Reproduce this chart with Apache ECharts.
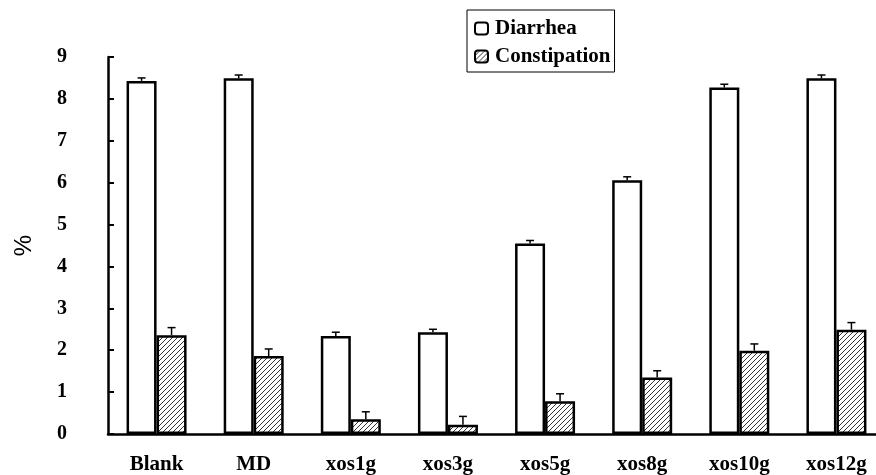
<!DOCTYPE html>
<html>
<head>
<meta charset="utf-8">
<script src="https://cdn.jsdelivr.net/npm/echarts@6/dist/echarts.min.js"></script>
<style>
  html, body { margin: 0; padding: 0; background: #fff; }
  #main { width: 876px; height: 475px; }
</style>
</head>
<body>
<div id="main"></div>
<script>
// 分组名称
var categories = ['Blank', 'MD', 'xos1g', 'xos3g', 'xos5g', 'xos8g', 'xos10g', 'xos12g'];

// 腹泻 (均值, 误差)
var diarrhea = [8.43, 8.49, 2.34, 2.43, 4.55, 6.06, 8.27, 8.49];
var diarrheaErr = [0.07, 0.08, 0.09, 0.07, 0.07, 0.08, 0.08, 0.08];

// 便秘 (均值, 误差)
var constipation = [2.36, 1.86, 0.35, 0.22, 0.78, 1.35, 1.99, 2.49];
var constipationErr = [0.18, 0.17, 0.18, 0.2, 0.18, 0.16, 0.16, 0.17];

var yTicks = [0, 9, 1]; // min, max, interval

var barWidth = 30;
var serif = '"Liberation Serif", "Times New Roman", serif';

/**
 * 斜线填充图案
 */
function makeHatch() {
    var c = document.createElement('canvas');
    c.width = 5;
    c.height = 5;
    var ctx = c.getContext('2d');
    ctx.fillStyle = '#fff';
    ctx.fillRect(0, 0, 5, 5);
    ctx.strokeStyle = '#333';
    ctx.lineWidth = 1;
    ctx.beginPath();
    ctx.moveTo(-1, 6); ctx.lineTo(6, -1);
    ctx.moveTo(-1, 1); ctx.lineTo(1, -1);
    ctx.moveTo(4, 6); ctx.lineTo(6, 4);
    ctx.stroke();
    return c;
}

/**
 * 误差线
 * @param offset 相对类目中心的偏移
 */
function errorSeries(values, errs, offset) {
    var d = [];
    for (var i = 0; i < values.length; i++) {
        d.push([i, values[i], values[i] + errs[i]]);
    }
    return {
        type: 'custom',
        z: 5,
        silent: true,
        encode: { x: 0, y: [1, 2] },
        data: d,
        renderItem: function (params, api) {
            var p0 = api.coord([api.value(0), api.value(1)]);
            var p1 = api.coord([api.value(0), api.value(2)]);
            var x = p0[0] + offset;
            var style = { stroke: '#000', lineWidth: 1.5 };
            return {
                type: 'group',
                children: [
                    { type: 'line', shape: { x1: x, y1: p0[1], x2: x, y2: p1[1] }, style: style },
                    { type: 'line', shape: { x1: x - 4, y1: p1[1], x2: x + 4, y2: p1[1] }, style: style }
                ]
            };
        }
    };
}

var myChart = echarts.init(document.getElementById('main'));

var option = {
    backgroundColor: '#fff',
    animation: false,
    grid: { left: 108, top: 57, bottom: 41, width: 777, outerBoundsMode: 'none', containLabel: false },
    legend: {
        data: ['Diarrhea', 'Constipation'],
        orient: 'vertical',
        left: 467,
        top: 10,
        padding: [8, 4, 5, 7],
        itemGap: 7,
        itemWidth: 13,
        itemHeight: 12,
        borderColor: '#000',
        borderWidth: 1,
        borderRadius: 0,
        textStyle: { fontFamily: serif, fontWeight: 'bold', fontSize: 21, lineHeight: 21, color: '#000', padding: [0, 0, 0, 2] }
    },
    xAxis: {
        type: 'category',
        data: categories,
        axisLine: { lineStyle: { color: '#000', width: 2.5 } },
        axisTick: { inside: true, length: 6, lineStyle: { color: '#000', width: 2.5 } },
        axisLabel: { margin: 20, fontFamily: serif, fontWeight: 'bold', fontSize: 21, color: '#000' }
    },
    yAxis: {
        type: 'value',
        min: yTicks[0],
        max: yTicks[1],
        interval: yTicks[2],
        name: '%',
        nameLocation: 'middle',
        nameGap: 72,
        nameRotate: 90,
        nameTextStyle: { fontFamily: '"Liberation Sans", Arial, sans-serif', fontSize: 24, color: '#000' },
        splitLine: { show: false },
        axisLine: { show: true, lineStyle: { color: '#000', width: 2.5 } },
        axisTick: { show: true, inside: true, length: 6, lineStyle: { color: '#000', width: 2 } },
        axisLabel: { margin: 41, fontFamily: serif, fontWeight: 'bold', fontSize: 20, color: '#000' }
    },
    series: [
        {
            name: 'Diarrhea',
            type: 'bar',
            barWidth: barWidth,
            barGap: '0%',
            data: diarrhea,
            itemStyle: { color: '#fff', borderColor: '#000', borderWidth: 2.5 }
        },
        {
            name: 'Constipation',
            type: 'bar',
            barWidth: barWidth,
            barGap: '0%',
            data: constipation,
            itemStyle: { color: { image: makeHatch(), repeat: 'repeat' }, borderColor: '#000', borderWidth: 2.5 }
        },
        errorSeries(diarrhea, diarrheaErr, -barWidth / 2),
        errorSeries(constipation, constipationErr, barWidth / 2)
    ]
};

myChart.setOption(option);
</script>
</body>
</html>
